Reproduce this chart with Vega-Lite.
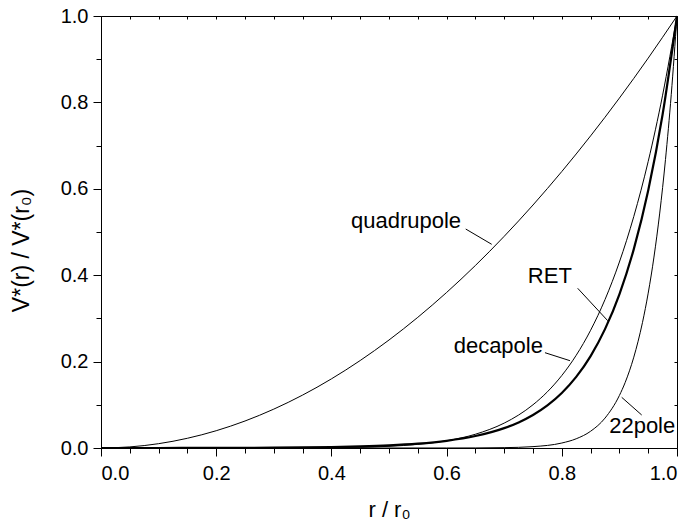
{
  "$schema": "https://vega.github.io/schema/vega-lite/v6.json",
  "width": 576,
  "height": 432,
  "autosize": {"type": "none"},
  "padding": {"left": 101, "top": 16, "right": 14, "bottom": 77},
  "background": "white",
  "config": {
    "font": "Liberation Sans",
    "view": {"stroke": "black", "strokeWidth": 1},
    "axis": {"domainColor": "black", "tickColor": "black", "labelColor": "black", "titleColor": "black", "grid": false, "labelFont": "Liberation Sans", "titleFont": "Liberation Sans"}
  },
  "datasets": {
    "curves": [
      {"curve": "quadrupole", "x": 0, "y": 0},
      {"curve": "quadrupole", "x": 0.05, "y": 0.0025},
      {"curve": "quadrupole", "x": 0.1, "y": 0.01},
      {"curve": "quadrupole", "x": 0.15, "y": 0.0225},
      {"curve": "quadrupole", "x": 0.2, "y": 0.04},
      {"curve": "quadrupole", "x": 0.25, "y": 0.0625},
      {"curve": "quadrupole", "x": 0.3, "y": 0.09},
      {"curve": "quadrupole", "x": 0.35, "y": 0.1225},
      {"curve": "quadrupole", "x": 0.4, "y": 0.16},
      {"curve": "quadrupole", "x": 0.45, "y": 0.2025},
      {"curve": "quadrupole", "x": 0.5, "y": 0.25},
      {"curve": "quadrupole", "x": 0.55, "y": 0.3025},
      {"curve": "quadrupole", "x": 0.6, "y": 0.36},
      {"curve": "quadrupole", "x": 0.65, "y": 0.4225},
      {"curve": "quadrupole", "x": 0.7, "y": 0.49},
      {"curve": "quadrupole", "x": 0.75, "y": 0.5625},
      {"curve": "quadrupole", "x": 0.8, "y": 0.64},
      {"curve": "quadrupole", "x": 0.85, "y": 0.7225},
      {"curve": "quadrupole", "x": 0.9, "y": 0.81},
      {"curve": "quadrupole", "x": 0.95, "y": 0.9025},
      {"curve": "quadrupole", "x": 1, "y": 1},
      {"curve": "decapole", "x": 0, "y": 0},
      {"curve": "decapole", "x": 0.1, "y": 0.00000001},
      {"curve": "decapole", "x": 0.2, "y": 0.00000256},
      {"curve": "decapole", "x": 0.3, "y": 0.0000656},
      {"curve": "decapole", "x": 0.35, "y": 0.000225},
      {"curve": "decapole", "x": 0.4, "y": 0.000655},
      {"curve": "decapole", "x": 0.45, "y": 0.00168},
      {"curve": "decapole", "x": 0.5, "y": 0.00391},
      {"curve": "decapole", "x": 0.55, "y": 0.00837},
      {"curve": "decapole", "x": 0.6, "y": 0.0168},
      {"curve": "decapole", "x": 0.65, "y": 0.03186},
      {"curve": "decapole", "x": 0.7, "y": 0.05765},
      {"curve": "decapole", "x": 0.725, "y": 0.0763},
      {"curve": "decapole", "x": 0.75, "y": 0.1001},
      {"curve": "decapole", "x": 0.775, "y": 0.1301},
      {"curve": "decapole", "x": 0.8, "y": 0.1678},
      {"curve": "decapole", "x": 0.825, "y": 0.2146},
      {"curve": "decapole", "x": 0.85, "y": 0.2725},
      {"curve": "decapole", "x": 0.875, "y": 0.3436},
      {"curve": "decapole", "x": 0.9, "y": 0.4305},
      {"curve": "decapole", "x": 0.925, "y": 0.536},
      {"curve": "decapole", "x": 0.95, "y": 0.6634},
      {"curve": "decapole", "x": 0.975, "y": 0.8167},
      {"curve": "decapole", "x": 1, "y": 1},
      {"curve": "22pole", "x": 0, "y": 0},
      {"curve": "22pole", "x": 0.2, "y": 0},
      {"curve": "22pole", "x": 0.4, "y": 0.00000001},
      {"curve": "22pole", "x": 0.5, "y": 0.00000095},
      {"curve": "22pole", "x": 0.6, "y": 0.0000366},
      {"curve": "22pole", "x": 0.65, "y": 0.00018},
      {"curve": "22pole", "x": 0.7, "y": 0.000798},
      {"curve": "22pole", "x": 0.75, "y": 0.00317},
      {"curve": "22pole", "x": 0.8, "y": 0.01153},
      {"curve": "22pole", "x": 0.825, "y": 0.02134},
      {"curve": "22pole", "x": 0.85, "y": 0.03876},
      {"curve": "22pole", "x": 0.875, "y": 0.06921},
      {"curve": "22pole", "x": 0.9, "y": 0.1216},
      {"curve": "22pole", "x": 0.91, "y": 0.1516},
      {"curve": "22pole", "x": 0.925, "y": 0.2103},
      {"curve": "22pole", "x": 0.94, "y": 0.2901},
      {"curve": "22pole", "x": 0.95, "y": 0.3585},
      {"curve": "22pole", "x": 0.96, "y": 0.442},
      {"curve": "22pole", "x": 0.97, "y": 0.5438},
      {"curve": "22pole", "x": 0.98, "y": 0.6676},
      {"curve": "22pole", "x": 0.99, "y": 0.8179},
      {"curve": "22pole", "x": 1, "y": 1},
      {"curve": "RET", "x": 0, "y": 0},
      {"curve": "RET", "x": 0.05, "y": 0.0000112},
      {"curve": "RET", "x": 0.1, "y": 0.0000473},
      {"curve": "RET", "x": 0.15, "y": 0.000117},
      {"curve": "RET", "x": 0.2, "y": 0.000238},
      {"curve": "RET", "x": 0.25, "y": 0.000438},
      {"curve": "RET", "x": 0.3, "y": 0.000768},
      {"curve": "RET", "x": 0.35, "y": 0.00131},
      {"curve": "RET", "x": 0.4, "y": 0.0022},
      {"curve": "RET", "x": 0.45, "y": 0.00367},
      {"curve": "RET", "x": 0.5, "y": 0.00608},
      {"curve": "RET", "x": 0.55, "y": 0.01008},
      {"curve": "RET", "x": 0.6, "y": 0.0167},
      {"curve": "RET", "x": 0.65, "y": 0.02769},
      {"curve": "RET", "x": 0.7, "y": 0.04598},
      {"curve": "RET", "x": 0.725, "y": 0.05928},
      {"curve": "RET", "x": 0.75, "y": 0.07648},
      {"curve": "RET", "x": 0.775, "y": 0.0987},
      {"curve": "RET", "x": 0.8, "y": 0.1274},
      {"curve": "RET", "x": 0.825, "y": 0.1646},
      {"curve": "RET", "x": 0.85, "y": 0.2128},
      {"curve": "RET", "x": 0.875, "y": 0.2751},
      {"curve": "RET", "x": 0.9, "y": 0.3558},
      {"curve": "RET", "x": 0.925, "y": 0.4604},
      {"curve": "RET", "x": 0.95, "y": 0.596},
      {"curve": "RET", "x": 0.975, "y": 0.7719},
      {"curve": "RET", "x": 1, "y": 1}
    ],
    "leaders": [
      {"label": "quadrupole", "x": 0.6332, "y": 0.5069, "x2": 0.6783, "y2": 0.4715},
      {"label": "RET", "x": 0.8276, "y": 0.3697, "x2": 0.8797, "y2": 0.2947},
      {"label": "decapole", "x": 0.7708, "y": 0.2206, "x2": 0.8142, "y2": 0.2021},
      {"label": "22pole", "x": 0.904, "y": 0.1173, "x2": 0.9387, "y2": 0.0764}
    ],
    "labels": [
      {"label": "quadrupole", "x": 0.5295, "y": 0.5255},
      {"label": "RET", "x": 0.7792, "y": 0.398},
      {"label": "decapole", "x": 0.6898, "y": 0.2361},
      {"label": "22pole", "x": 0.9396, "y": 0.0516}
    ]
  },
  "resolve": {"axis": {"x": "independent", "y": "independent"}},
  "layer": [
    {
      "data": {"name": "curves"},
      "transform": [{"filter": "datum.curve != 'RET'"}],
      "mark": {"type": "line", "color": "black", "strokeWidth": 1, "interpolate": "monotone"},
      "encoding": {
        "x": {"field": "x", "type": "quantitative", "scale": {"domain": [0, 1], "nice": false},
          "axis": {"orient": "bottom", "values": [0, 0.2, 0.4, 0.6, 0.8, 1], "format": ".1f", "tickSize": 8, "labelFontSize": 20, "labelPadding": 7, "title": "r / r₀", "titleFontSize": 22, "titleFontWeight": "normal", "titleBaseline": "middle", "titleY": 61, "titleX": 288}},
        "y": {"field": "y", "type": "quantitative", "scale": {"domain": [0, 1], "nice": false},
          "axis": {"orient": "left", "values": [0, 0.2, 0.4, 0.6, 0.8, 1], "format": ".1f", "tickSize": 8, "labelFontSize": 20, "labelPadding": 5, "title": "V*(r) / V*(r₀)", "titleFontSize": 23, "titleFontWeight": "normal", "titleBaseline": "middle", "titleX": -80, "titleY": 234}},
        "detail": {"field": "curve"}
      }
    },
    {
      "data": {"name": "curves"},
      "transform": [{"filter": "datum.curve == 'RET'"}],
      "mark": {"type": "line", "color": "black", "strokeWidth": 2.2, "interpolate": "monotone"},
      "encoding": {
        "x": {"field": "x", "type": "quantitative",
          "axis": {"orient": "bottom", "values": [0.05, 0.1, 0.15, 0.25, 0.3, 0.35, 0.45, 0.5, 0.55, 0.65, 0.7, 0.75, 0.85, 0.9, 0.95], "tickSize": 5, "labels": false, "domain": false, "title": null}},
        "y": {"field": "y", "type": "quantitative",
          "axis": {"orient": "left", "values": [0.1, 0.3, 0.5, 0.7, 0.9], "tickSize": 5, "labels": false, "domain": false, "title": null}}
      }
    },
    {
      "data": {"name": "leaders"},
      "mark": {"type": "rule", "color": "black", "strokeWidth": 1},
      "encoding": {
        "x": {"field": "x", "type": "quantitative",
          "axis": {"orient": "top", "values": [0.05, 0.1, 0.15, 0.2, 0.25, 0.3, 0.35, 0.4, 0.45, 0.5, 0.55, 0.6, 0.65, 0.7, 0.75, 0.8, 0.85, 0.9, 0.95], "tickSize": -3, "labels": false, "domain": false, "title": null}},
        "y": {"field": "y", "type": "quantitative",
          "axis": {"orient": "right", "values": [0.1, 0.2, 0.3, 0.4, 0.5, 0.6, 0.7, 0.8, 0.9], "tickSize": -3, "labels": false, "domain": false, "title": null}},
        "x2": {"field": "x2"},
        "y2": {"field": "y2"}
      }
    },
    {
      "data": {"name": "labels"},
      "mark": {"type": "text", "color": "black", "fontSize": 22, "align": "center", "baseline": "middle", "font": "Liberation Sans"},
      "encoding": {
        "x": {"field": "x", "type": "quantitative", "axis": null},
        "y": {"field": "y", "type": "quantitative", "axis": null},
        "text": {"field": "label"}
      }
    }
  ]
}
